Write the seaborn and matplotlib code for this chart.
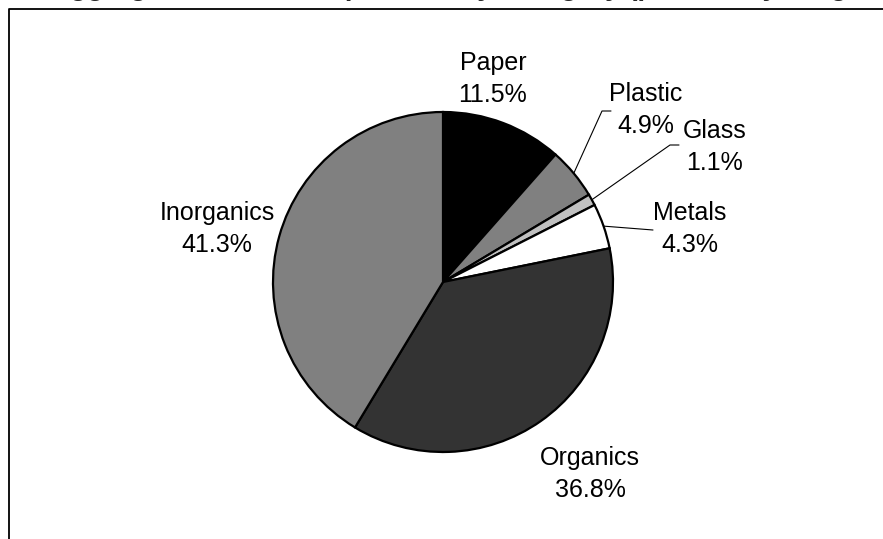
import numpy as np
import matplotlib
matplotlib.use("Agg")
import matplotlib.pyplot as plt
import seaborn as sns

# waste composition (% by weight)
categories = ["Paper", "Plastic", "Glass", "Metals", "Organics", "Inorganics"]
shares = [11.5, 4.9, 1.1, 4.3, 36.8, 41.3]
slice_colors = ["#000000", "#808080", "#c0c0c0", "#ffffff", "#333333", "#808080"]
title_text = "Aggregate Waste Composition by Category (percent by weight, typical city)"

# layout in pixels of the 883x539 picture
W, H = 883, 539
CX, CY, R = 443, 282, 170
label_pos = {
    "Paper": (493, 79),
    "Plastic": (646, 110),
    "Glass": (715, 147),
    "Metals": (690, 229),
    "Organics": (590, 474),
    "Inorganics": (217, 229),
}
leaders = {
    "Plastic": [(602, 111), (611, 111)],
    "Glass": [(670, 145), (679, 145)],
    "Metals": [(653, 230)],
}


def px(x, y):
    return (x - CX) / R, (CY - y) / R


sns.set_theme(style="white")
plt.rcParams["font.family"] = ["Liberation Sans Narrow", "Liberation Sans", "DejaVu Sans"]

fig = plt.figure(figsize=(W / 100, H / 100), dpi=100)
ax = fig.add_axes([0, 0, 1, 1])

wedges, _ = ax.pie(
    shares,
    colors=slice_colors,
    startangle=90,
    counterclock=False,
    radius=1,
    wedgeprops=dict(edgecolor="black", linewidth=1.6),
)

x0, y0 = px(0, H)
x1, y1 = px(W, 0)
ax.set_xlim(x0, x1)
ax.set_ylim(y0, y1)
ax.set_aspect("auto")
ax.axis("off")

for name, share, w in zip(categories, shares, wedges):
    tx, ty = px(*label_pos[name])
    ax.text(tx, ty, f"{name}\n{share:.1f}%", ha="center", va="center",
            fontsize=18, color="black", linespacing=1.45)
    if name in leaders:
        mid = np.deg2rad((w.theta1 + w.theta2) / 2)
        xs = [np.cos(mid) * 1.0]
        ys = [np.sin(mid) * 1.0]
        for p in leaders[name]:
            lx, ly = px(*p)
            xs.append(lx)
            ys.append(ly)
        ax.plot(xs, ys, color="black", lw=0.8)

# chart frame (cut off at right and bottom)
fx, fy = zip(px(9, H + 5), px(9, 9), px(W + 5, 9))
ax.plot(fx, fy, color="black", lw=1.3, clip_on=False)

# title sits mostly above the visible area, as in the cropped original
fig.text(50 / W, 1 + 5 / H, title_text, ha="left", va="baseline",
         fontsize=20, fontweight="bold", family=["Liberation Sans", "DejaVu Sans"])

fig.savefig("out.png", dpi=100)
